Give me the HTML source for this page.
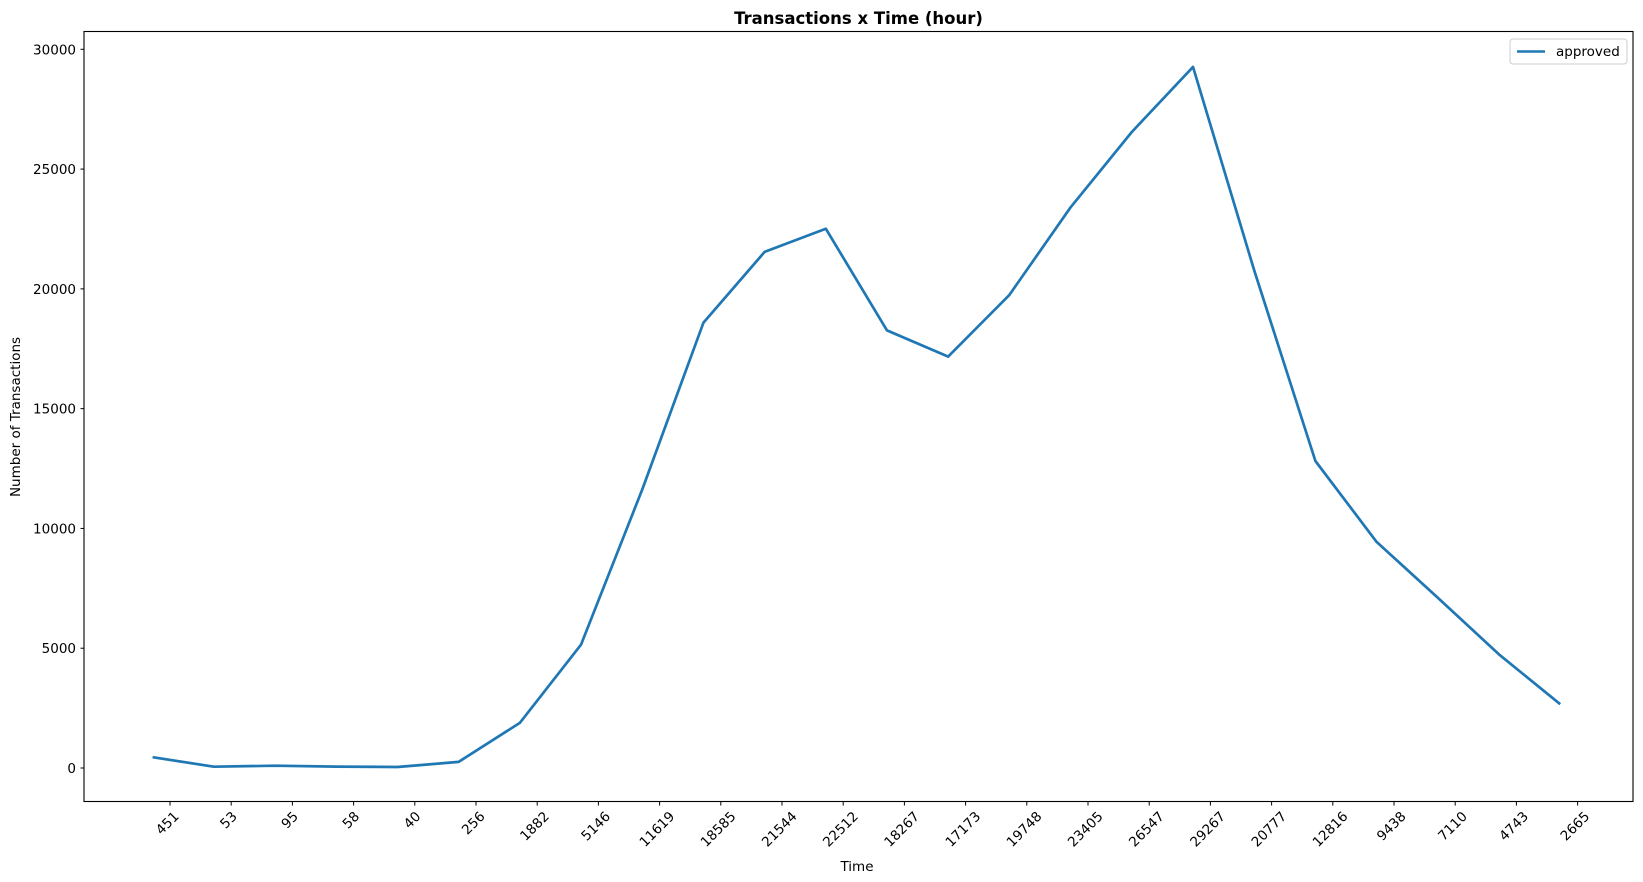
<!DOCTYPE html>
<html><head><meta charset="utf-8"><style>
body{margin:0;background:#fff;}
svg{display:block;font-family:"DejaVu Sans","Liberation Sans",sans-serif;}
</style></head><body>
<svg id="chart" width="1643" height="882">
<text x="858.5" y="24" text-anchor="middle" font-size="16.5" font-weight="bold">Transactions x Time (hour)</text>
<text x="857" y="871" text-anchor="middle" font-size="13.5">Time</text>
<text transform="translate(20,417) rotate(-90)" text-anchor="middle" font-size="13.5">Number of Transactions</text>
<g id="yticks"></g><g id="xticks"></g><g id="plot"></g>
<rect x="84" y="31.5" width="1549" height="770" fill="none" stroke="#000" stroke-width="1.1"/>
<g>
<rect x="1510" y="39" width="117" height="25" rx="3" fill="#fff" stroke="#ccc"/>
<line x1="1517" y1="51.5" x2="1545" y2="51.5" stroke="#1f77b4" stroke-width="2.6"/>
<text x="1556" y="56" font-size="13.5">approved</text>
</g>
</svg>
<script>
const categories=["451","53","95","58","40","256","1882","5146","11619","18585","21544","22512","18267","17173","19748","23405","26547","29267","20777","12816","9438","7110","4743","2665"];
const approved=[451,53,95,58,40,256,1882,5146,11619,18585,21544,22512,18267,17173,19748,23405,26547,29267,20777,12816,9438,7110,4743,2665];
const yTicks=[0,5000,10000,15000,20000,25000,30000];
const NS="http://www.w3.org/2000/svg";
const y=v=>768-v*(718.7/30000);
const tickX=i=>170+i*61.2;
const pointX=i=>152.6+i*61.2;
function mk(tag,attrs,parent,txt){const e=document.createElementNS(NS,tag);for(const k in attrs)e.setAttribute(k,attrs[k]);if(txt!==undefined)e.textContent=txt;parent.appendChild(e);return e;}
const yg=document.getElementById('yticks');
yTicks.forEach(v=>{
  const l=mk('line',{x1:80.5,x2:84,y1:y(v),y2:y(v),stroke:'#000'},yg);
  
  
  const t=mk('text',{x:76,y:y(v)+5,'text-anchor':'end','font-size':13.5},yg,String(v));
  
  
});
const xg=document.getElementById('xticks');
categories.forEach((c,i)=>{
  const x=tickX(i);
  const l=mk('line',{x1:x,x2:x,y1:802,y2:805.5,stroke:'#000'},xg);
  
  
  const w=c.length*8.6,h=16;
  const cy=808+(w+h)/(2*Math.SQRT2);
  const t=mk('text',{x:0,y:5,'text-anchor':'middle','font-size':13.5,transform:`translate(${x-3},${cy}) rotate(-45)`},xg,c);
  
  
});
const pg=document.getElementById('plot');
const d=approved.map((v,i)=>(i?'L':'M')+pointX(i).toFixed(1)+','+y(v).toFixed(1)).join(' ');
const p=mk('path',{d:d,fill:'none',stroke:'#1f77b4','stroke-width':2.7,'stroke-linejoin':'round'},pg);


</script>
</body></html>
